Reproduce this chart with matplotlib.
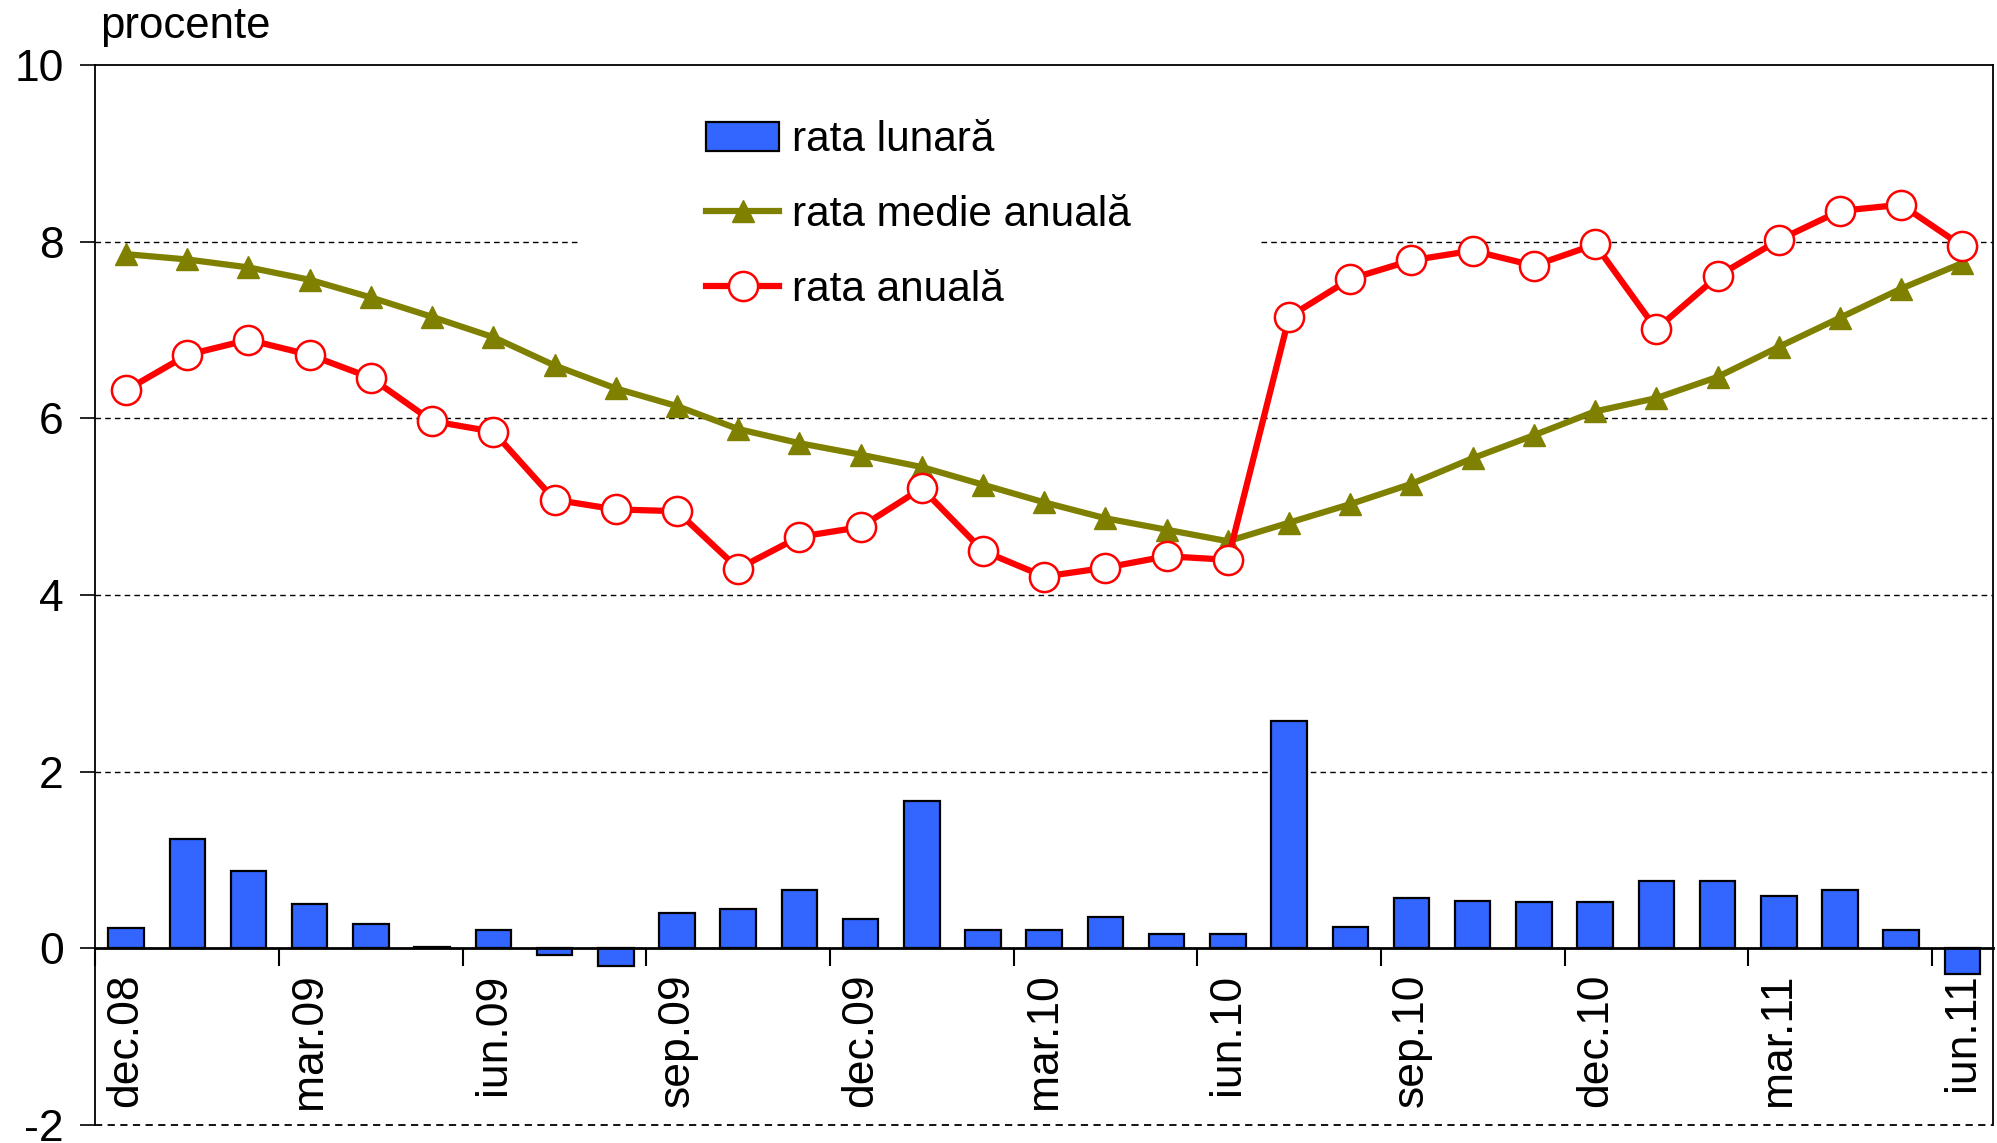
import numpy as np
import matplotlib.pyplot as plt

plt.rcParams['font.family'] = ['Liberation Sans', 'DejaVu Sans']
plt.rcParams['axes.unicode_minus'] = False

# luni: dec.08 ... iun.11
month_names = ['ian', 'feb', 'mar', 'apr', 'mai', 'iun', 'iul', 'aug', 'sep', 'oct', 'noi', 'dec']
months = ['dec.08'] + [m + '.' + y for y in ['09', '10'] for m in month_names] + \
         [m + '.11' for m in month_names[:6]]

rata_lunara = [0.23, 1.24, 0.88, 0.50, 0.28, 0.02, 0.21, -0.08, -0.20, 0.40,
               0.45, 0.66, 0.33, 1.67, 0.21, 0.21, 0.35, 0.16, 0.16, 2.58,
               0.24, 0.57, 0.54, 0.52, 0.52, 0.76, 0.76, 0.59, 0.66, 0.21, -0.29]

rata_medie_anuala = [7.86, 7.80, 7.71, 7.57, 7.37, 7.15, 6.92, 6.60, 6.34, 6.14,
                     5.88, 5.72, 5.59, 5.45, 5.25, 5.05, 4.87, 4.74, 4.61, 4.82,
                     5.03, 5.26, 5.55, 5.81, 6.08, 6.23, 6.47, 6.81, 7.14, 7.47, 7.76]

rata_anuala = [6.32, 6.72, 6.89, 6.72, 6.46, 5.97, 5.85, 5.08, 4.97, 4.95,
               4.30, 4.66, 4.77, 5.21, 4.50, 4.21, 4.31, 4.44, 4.40, 7.15,
               7.58, 7.79, 7.90, 7.73, 7.97, 7.01, 7.61, 8.02, 8.35, 8.42, 7.95]

x = np.arange(len(months))

fig = plt.figure(figsize=(19.97, 11.43), dpi=100)
ax = fig.add_axes([0.0478, 0.0157, 0.9502, 0.9273])

# grila
dash = (0, (4, 3))
for v in [2, 4, 6]:
    ax.axhline(v, color='black', lw=1, ls=dash, zorder=0)
ax.axhline(8, xmin=0, xmax=0.254, color='black', lw=1, ls=dash, zorder=0)
ax.axhline(8, xmin=0.614, xmax=1, color='black', lw=1, ls=dash, zorder=0)
ax.axhline(-2, color='black', lw=1.3, ls=dash, zorder=0, clip_on=False)

bars = ax.bar(x, rata_lunara, width=0.58, color='#3366FF', edgecolor='black', lw=1.6,
              label='rata lunară', zorder=2)
l1, = ax.plot(x, rata_medie_anuala, color='#808000', lw=4.5, marker='^', ms=16,
              mfc='#808000', mec='#808000', label='rata medie anuală', zorder=3)
l2, = ax.plot(x, rata_anuala, color='#FF0000', lw=4.5, marker='o', ms=21,
              mfc='white', mec='#FF0000', mew=1.8, label='rata anuală', zorder=4)

ax.set_xlim(-0.5, len(months) - 0.5)
ax.set_ylim(-2, 10)
ax.set_yticks(range(-2, 11, 2))
ax.tick_params(axis='y', direction='out', length=11, width=1.2, labelsize=32, pad=12)

# axa x la zero
ax.spines['bottom'].set_position(('data', 0))
ax.spines['bottom'].set_linewidth(2)
ax.spines['left'].set_linewidth(1.3)
ax.spines['top'].set_linewidth(1.3)
ax.spines['right'].set_linewidth(1.3)
ax.set_xticks(np.arange(-0.5, len(months) - 1, 3))
ax.set_xticklabels([])
ax.tick_params(axis='x', which='major', direction='out', length=13, width=1.5)
ax.set_xticks(x[::3], months[::3], minor=True)
ax.tick_params(axis='x', which='minor', length=0, pad=18, labelsize=32,
               labelrotation=90)
for lbl in ax.get_xticklabels(minor=True):
    lbl.set_va('top')

fig.text(0.05, 0.967, 'procente', fontsize=31.5, ha='left', va='baseline')

ax.legend([bars, l1, l2], ['rata lunară', 'rata medie anuală', 'rata anuală'],
          loc='upper left', bbox_to_anchor=(0.322, 0.948), frameon=False,
          fontsize=30.5, handlelength=1.72, handletextpad=0.3, labelspacing=0.82,
          borderpad=0, borderaxespad=0)

fig.savefig('out.png', dpi=100)
